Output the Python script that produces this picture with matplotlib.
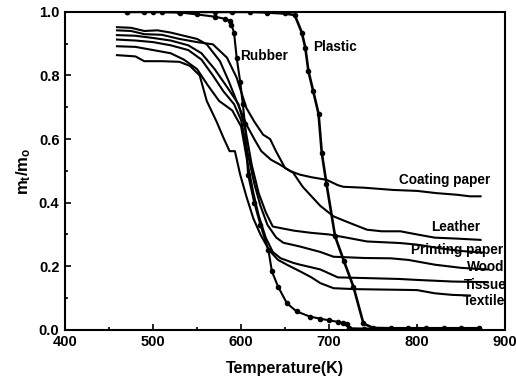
import matplotlib
matplotlib.use("Agg")
import matplotlib.pyplot as plt
from matplotlib.ticker import MultipleLocator

plt.rcParams['font.family'] = ['Liberation Sans', 'DejaVu Sans']
plt.rcParams['font.weight'] = 'bold'
plt.rcParams['mathtext.fontset'] = 'custom'
plt.rcParams['mathtext.rm'] = 'Liberation Sans:bold'
plt.rcParams['mathtext.it'] = 'Liberation Sans:bold'
plt.rcParams['mathtext.bf'] = 'Liberation Sans:bold'

# ---- data ----
coating_T = [459, 475, 490, 505, 520, 535, 550, 561, 576, 586, 595, 606, 615, 623, 634, 644, 656, 667, 680, 697, 710, 716, 740, 773, 800, 822, 845, 860, 872]
coating_m = [0.952, 0.950, 0.940, 0.942, 0.935, 0.925, 0.915, 0.898, 0.845, 0.782, 0.719, 0.646, 0.600, 0.562, 0.535, 0.520, 0.499, 0.488, 0.480, 0.472, 0.455, 0.450, 0.447, 0.440, 0.437, 0.430, 0.425, 0.420, 0.420]

leather_T = [459, 475, 490, 510, 530, 550, 568, 584, 595, 606, 615, 625, 633, 640, 650, 659, 670, 690, 705, 720, 743, 760, 781, 800, 820, 845, 872]
leather_m = [0.942, 0.940, 0.930, 0.928, 0.915, 0.905, 0.898, 0.856, 0.793, 0.698, 0.655, 0.614, 0.600, 0.560, 0.509, 0.495, 0.450, 0.390, 0.357, 0.340, 0.315, 0.310, 0.310, 0.300, 0.290, 0.287, 0.283]

printing_T = [459, 480, 500, 520, 540, 555, 570, 585, 597, 605, 612, 620, 628, 636, 645, 660, 680, 700, 720, 743, 781, 800, 830, 850, 875]
printing_m = [0.927, 0.925, 0.918, 0.910, 0.895, 0.870, 0.820, 0.760, 0.710, 0.630, 0.520, 0.430, 0.370, 0.325, 0.320, 0.312, 0.305, 0.300, 0.290, 0.278, 0.273, 0.268, 0.255, 0.248, 0.243]

wood_T = [459, 480, 500, 520, 540, 555, 568, 580, 592, 600, 608, 615, 622, 630, 640, 648, 667, 690, 705, 740, 770, 790, 820, 850, 880]
wood_m = [0.913, 0.910, 0.905, 0.895, 0.880, 0.850, 0.800, 0.750, 0.710, 0.660, 0.550, 0.460, 0.390, 0.330, 0.290, 0.274, 0.262, 0.245, 0.230, 0.226, 0.225, 0.220, 0.205, 0.195, 0.190]

tissue_T = [459, 480, 500, 520, 535, 550, 562, 575, 590, 600, 607, 614, 620, 628, 636, 645, 660, 667, 690, 710, 740, 780, 800, 840, 880]
tissue_m = [0.892, 0.890, 0.880, 0.870, 0.850, 0.820, 0.770, 0.720, 0.690, 0.640, 0.530, 0.430, 0.360, 0.290, 0.245, 0.225, 0.210, 0.205, 0.190, 0.165, 0.163, 0.160, 0.157, 0.152, 0.150]

textile_T = [459, 470, 480, 490, 510, 530, 542, 553, 561, 572, 580, 587, 593, 599, 606, 614, 622, 632, 642, 652, 667, 680, 690, 705, 730, 780, 800, 820, 840, 860]
textile_m = [0.864, 0.862, 0.860, 0.845, 0.845, 0.843, 0.830, 0.800, 0.720, 0.656, 0.604, 0.562, 0.562, 0.488, 0.420, 0.350, 0.300, 0.250, 0.220, 0.205, 0.184, 0.165, 0.147, 0.131, 0.128, 0.126, 0.125, 0.115, 0.110, 0.108]

rubber_T = [470, 500, 531, 550, 570, 582, 587, 589, 592, 595, 599, 602, 604.5, 608, 615, 622, 631, 635, 642, 652, 663, 678, 690, 700, 710, 716, 720, 723, 740, 800, 870]
rubber_m = [1.0, 1.0, 0.998, 0.992, 0.985, 0.978, 0.972, 0.960, 0.935, 0.856, 0.780, 0.709, 0.646, 0.488, 0.400, 0.330, 0.252, 0.184, 0.136, 0.084, 0.058, 0.042, 0.035, 0.030, 0.025, 0.021, 0.018, 0.005, 0.004, 0.004, 0.003]

plastic_T = [470, 490, 510, 530, 550, 570, 590, 610, 630, 650, 661, 669, 673, 676.5, 682, 688, 691.7, 697, 706.8, 717, 727.6, 739, 750, 770, 790, 810, 830, 850, 870]
plastic_m = [1.0, 1.0, 1.0, 1.0, 1.0, 1.0, 1.0, 1.0, 0.998, 0.995, 0.99, 0.935, 0.887, 0.814, 0.750, 0.680, 0.556, 0.460, 0.294, 0.215, 0.136, 0.020, 0.006, 0.005, 0.005, 0.005, 0.005, 0.005, 0.005]

labels = ['Rubber', 'Plastic', 'Coating paper', 'Leather', 'Printing paper', 'Wood', 'Tissue', 'Textile']
label_T = [626, 707, 831, 844, 845, 878, 877, 876]
label_m = [0.86, 0.89, 0.47, 0.324, 0.252, 0.198, 0.140, 0.090]

xticks = [400, 500, 600, 700, 800, 900]
yticks = [0.0, 0.2, 0.4, 0.6, 0.8, 1.0]

# ---- figure ----
fig = plt.figure(figsize=(5.16, 3.84), dpi=100)
ax = fig.add_axes([0.126, 0.141, 0.853, 0.828])

lw = 1.5
for T, m in [(coating_T, coating_m), (leather_T, leather_m), (printing_T, printing_m),
             (wood_T, wood_m), (tissue_T, tissue_m), (textile_T, textile_m)]:
    ax.plot(T, m, color='black', lw=lw)

ax.plot(rubber_T, rubber_m, color='black', lw=lw, marker='o', markersize=3)
ax.plot(plastic_T, plastic_m, color='black', lw=lw + 0.4, marker='o', markersize=3)

for lab, t, m in zip(labels, label_T, label_m):
    ax.text(t, m, lab, ha='center', va='center', fontsize=9.8, fontweight='bold')

ax.set_xlim(400, 900)
ax.set_ylim(0.0, 1.0)
ax.set_xticks(xticks)
ax.set_yticks(yticks)
ax.set_xticklabels([str(v) for v in xticks])
ax.set_yticklabels([f'{v:.1f}' for v in yticks])
ax.xaxis.set_minor_locator(MultipleLocator(50))
ax.yaxis.set_minor_locator(MultipleLocator(0.1))
ax.tick_params(which='both', direction='in', top=False, right=False, width=1.2)
ax.tick_params(which='major', length=4, labelsize=10.5, pad=4)
ax.tick_params(which='minor', length=2.5)
for lbl in ax.get_xticklabels() + ax.get_yticklabels():
    lbl.set_fontweight('bold')
for s in ax.spines.values():
    s.set_linewidth(1.5)

ax.set_xlabel('Temperature(K)', fontsize=11.5, fontweight='bold', labelpad=8)
ax.set_ylabel(r'm$_\mathrm{t}$/m$_\mathrm{o}$', fontsize=12, fontweight='bold', labelpad=4)

fig.savefig('out.png', dpi=100)
